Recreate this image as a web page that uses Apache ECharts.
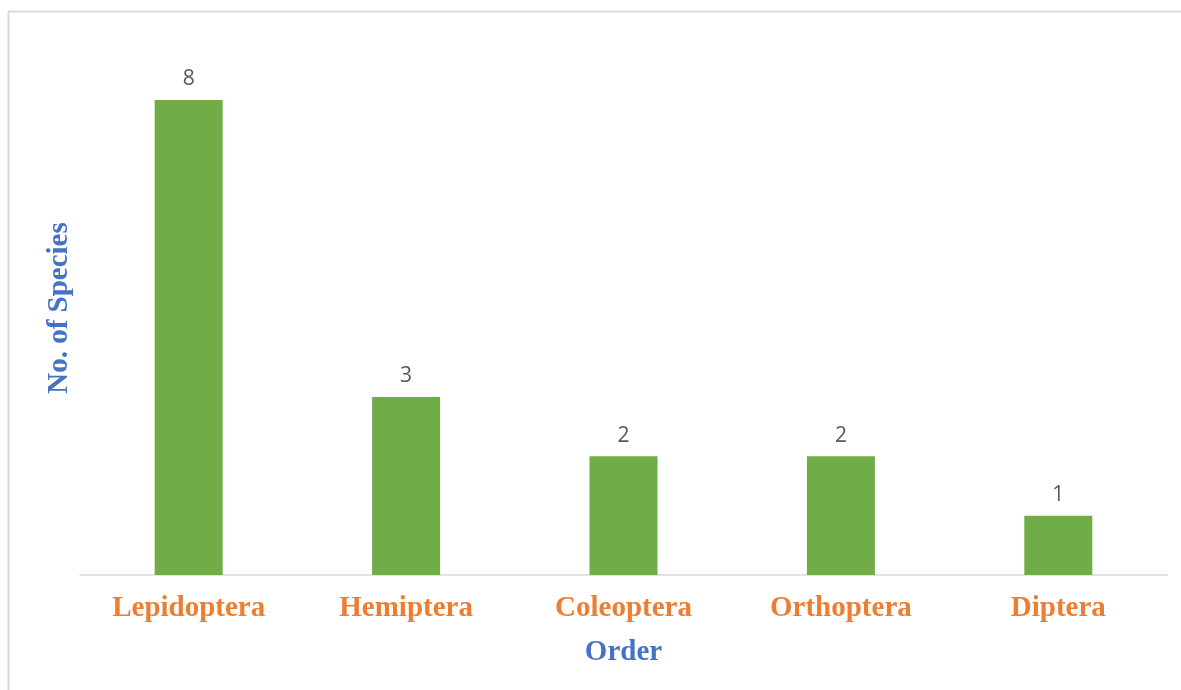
<!DOCTYPE html>
<html><head><meta charset="utf-8">
<script src="https://cdn.jsdelivr.net/npm/echarts@6/dist/echarts.min.js"></script>
<style>html,body{margin:0;padding:0;background:#fff}#c{width:1181px;height:690px}</style>
</head><body><div id="c"></div>
<script>
const categories = ['Lepidoptera', 'Hemiptera', 'Coleoptera', 'Orthoptera', 'Diptera'];
const species = [8, 3, 2, 2, 1];
const xTitle = 'Order';
const yTitle = 'No. of Species';

const chart = echarts.init(document.getElementById('c'));
chart.setOption({
  backgroundColor: '#fff',
  animation: false,
  graphic: [{
    type: 'rect', left: 6, top: 9, silent: true,
    shape: { width: 1200, height: 720 },
    style: { fill: 'none', stroke: '#d9d9d9', lineWidth: 2 }
  }, {
    type: 'text', x: 60, y: 308, rotation: Math.PI / 2, silent: true,
    style: {
      text: yTitle, fill: '#4472C4', fontFamily: 'Liberation Serif', fontWeight: 'bold', fontSize: 29,
      align: 'center', verticalAlign: 'middle'
    }
  }],
  grid: { left: 80, right: 14, top: 100, bottom: 115, containLabel: false },
  xAxis: {
    type: 'category', data: categories,
    name: xTitle, nameLocation: 'middle', nameGap: 63,
    nameTextStyle: { color: '#4472C4', fontFamily: 'Liberation Serif', fontWeight: 'bold', fontSize: 29 },
    axisLine: { lineStyle: { color: '#d9d9d9', width: 1.5 } },
    axisTick: { show: false },
    axisLabel: { color: '#ED7D31', fontFamily: 'Liberation Serif', fontWeight: 'bold', fontSize: 29, margin: 19 }
  },
  yAxis: {
    type: 'value', min: 0, max: 8, interval: 1,
    axisLine: { show: false }, axisTick: { show: false },
    axisLabel: { show: false }, splitLine: { show: false }
  },
  series: [{
    type: 'bar', data: species, barWidth: 68,
    itemStyle: { color: '#70AD47' },
    label: { show: true, position: 'top', distance: 10, color: '#595959', fontFamily: 'Open Sans', fontSize: 21 }
  }]
});
</script></body></html>
